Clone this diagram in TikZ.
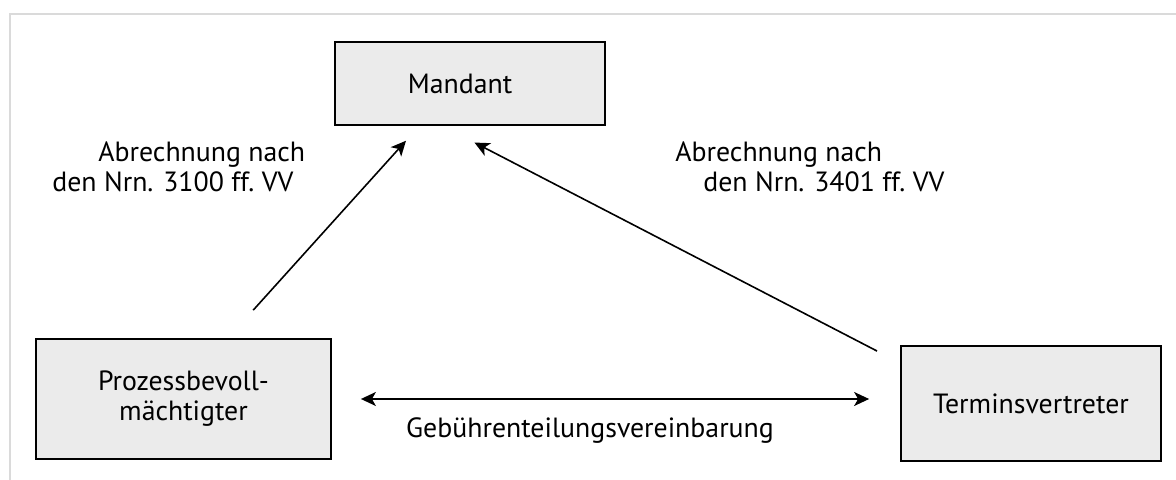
\documentclass[tikz,border=0pt]{standalone}
\usepackage{fontspec}
\setmainfont{PT Sans}
\usetikzlibrary{arrows.meta}

\definecolor{boxgray}{HTML}{EBEBEB}
\definecolor{framegray}{HTML}{DADADA}
\newcommand{\diagfont}{\fontsize{13.9}{15}\selectfont}

\begin{document}
\begin{tikzpicture}[x=0.5pt, y=-0.5pt,
    party/.style={draw, line width=0.9pt, fill=boxgray, inner sep=0pt, align=center, font=\diagfont},
    arr/.style={-{Stealth[length=7.5pt,width=7pt,inset=2pt]}, line width=0.8pt},
    lbl/.style={inner sep=0pt, align=left, font=\diagfont}]
    \useasboundingbox (0,0) rectangle (1176,480);

    % Frame
    \draw[framegray, line width=1pt] (1176,14) -| (9.6,480);

    % Parties
    \node[party, minimum width=135pt, minimum height=41.5pt] (M) at (470,83.5) {Mandant\hspace*{10pt}};
    \node[party, minimum width=147.5pt, minimum height=60pt] (P) at (183.5,399) {Prozessbevoll-\\mächtigter};
    \node[party, minimum width=130pt, minimum height=57.5pt] (T) at (1031,403.5) {Terminsvertreter};

    % Billing
    \draw[arr, shorten <=18.8pt, shorten >=10pt] ([xshift=22.25pt]P.north) -- ([xshift=-25.3pt]M.south);
    \draw[arr, shorten <=13pt, shorten >=18.1pt] ([yshift=20.25pt]T.west) -- ([xshift=-13.85pt]M.south);
    \node[lbl, anchor=base west] (billP) at (52,192) {\hspace*{23pt}Abrechnung nach\\den Nrn. 3100 ff.\ VV};
    \node[lbl, anchor=base west] (billT) at (675,192) {Abrechnung nach\\\hspace*{14pt}den Nrn. 3401 ff.\ VV};

    % Fee sharing
    \draw[arr, {Stealth[length=7.5pt,width=7pt,inset=2pt]}-{Stealth[length=7.5pt,width=7pt,inset=2pt]},
        shorten <=14.5pt, shorten >=15.5pt] (P.east) -- (P.east -| T.west);
    \node[lbl, anchor=base] (share) at (590,437) {Gebührenteilungsvereinbarung};
\end{tikzpicture}
\end{document}
